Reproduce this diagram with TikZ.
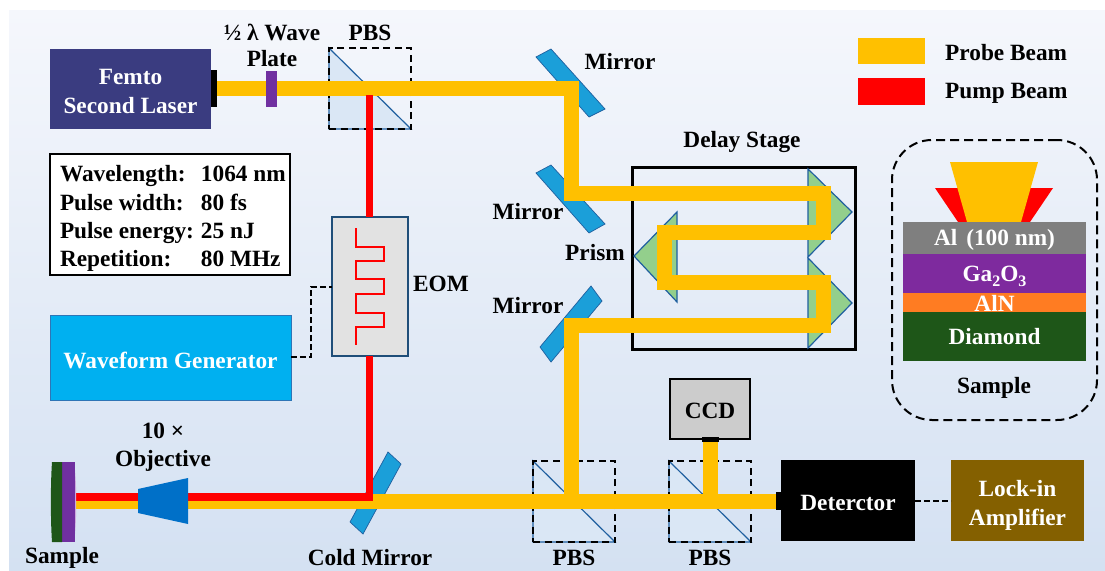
\documentclass[tikz,border=0pt]{standalone}
\usepackage{fontspec}
\setmainfont{Liberation Serif}
\usetikzlibrary{calc}
\definecolor{probe}{HTML}{FFC000}
\definecolor{pump}{HTML}{FF0000}
\definecolor{mirrorblue}{HTML}{1B9FD9}
\definecolor{edgeblue}{HTML}{1F5F9F}
\definecolor{prismgreen}{HTML}{93CF8C}
\definecolor{cubeblue}{HTML}{DAE7F5}
\newcommand{\dn}[2]{\raisebox{-#1}[\height][\depth]{#2}}
\tikzset{
  lab/.style={font=\fontsize{23.3}{29}\selectfont\bfseries,text=#1,align=center,inner sep=0pt},
  lab/.default=black,
  boxn/.style={rectangle,inner sep=0pt,outer sep=0pt,align=center,font=\fontsize{23.3}{29}\selectfont\bfseries},
  probebeam/.style={draw=probe,line width=15pt,line join=miter,line cap=butt},
  pumpbeam/.style={draw=pump,line width=7.5pt,line join=miter,line cap=butt},
  mirrorshape/.style={fill=mirrorblue,draw=edgeblue,line width=.7pt},
  prismshape/.style={fill=prismgreen,draw=edgeblue,line width=1.2pt},
  cubefill/.style={fill=cubeblue,draw=edgeblue,line width=1.2pt},
  cubedash/.style={draw=black,dash pattern=on 7pt off 4.5pt,line width=2pt},
  sig/.style={draw=black,dash pattern=on 6pt off 3pt,line width=2pt},
}
\begin{document}
\begin{tikzpicture}[x=1pt,y=-1pt]
\useasboundingbox (0,0) rectangle (1105,570);
\fill[white] (0,0) rectangle (1105,570);
\shade[top color={rgb,255:red,245;green,247;blue,252},middle color={rgb,255:red,224;green,231;blue,244},bottom color={rgb,255:red,212;green,225;blue,242}] (9,10) rectangle (1105,570);

% mirrors (under beams)
\path[mirrorshape] (536,57) -- (551,49) -- (605,109) -- (589,117) -- cycle;
\path[mirrorshape] (536,173) -- (551,165) -- (605,224) -- (589,233) -- cycle;
\path[mirrorshape] (540,347) -- (591,286) -- (602,301) -- (551,362) -- cycle;
\path[mirrorshape] (388,452) -- (401,464) -- (363,534) -- (350,522) -- cycle;

% delay stage
\node[boxn,draw=black,line width=3pt,minimum width=223pt,minimum height=182pt] (stage) at (743.5,258) {};
\path[prismshape] (808,169) -- (852,212) -- (808,257) -- cycle;
\path[prismshape] (808,258) -- (852,303) -- (808,348) -- cycle;
\path[prismshape] (677,212) -- (634,256) -- (677,302) -- cycle;

% beam splitter cubes
\foreach \nm/\xa/\ya in {pbsa/329/48,pbsb/533/461,pbsc/669/461}{
  \path[cubefill] (\xa,\ya) -- ($(\xa,\ya)+(82,81)$) -- ($(\xa,\ya)+(0,81)$) -- cycle;
  \node[boxn,cubedash,minimum width=82pt,minimum height=81pt] (\nm) at ($(\xa,\ya)+(41,40.5)$) {};
}

% equipment
\node[boxn,fill={rgb,255:red,58;green,60;blue,128},text=white,minimum width=161pt,minimum height=80pt] (laser) at (130.5,89) {\dn{4pt}{\begin{tabular}{@{}c@{}}Femto\\Second Laser\end{tabular}}};
\node[boxn,fill=black,minimum width=6pt,minimum height=37pt] (laserport) at (214,88.5) {};
\node[boxn,fill={rgb,255:red,226;green,226;blue,226},draw={rgb,255:red,31;green,78;blue,121},line width=1.2pt,minimum width=76pt,minimum height=139pt] (eom) at (370,286.5) {};
\node[boxn,fill={rgb,255:red,0;green,176;blue,240},draw={rgb,255:red,46;green,117;blue,182},line width=1pt,text=white,minimum width=241pt,minimum height=85pt] (wave) at (170.5,357.5) {\dn{3pt}{Waveform Generator}};
\node[boxn,fill={rgb,255:red,204;green,204;blue,204},draw=black,line width=1.2pt,minimum width=80pt,minimum height=60pt] (ccd) at (710,409) {\dn{1.5pt}{CCD}};
\node[boxn,fill=black,minimum width=17pt,minimum height=5pt] (ccdport) at (710.5,439.5) {};
\node[boxn,fill=black,text=white,minimum width=134pt,minimum height=81pt] (det) at (848,500.5) {\dn{2pt}{Deterctor}};
\node[boxn,fill=black,minimum width=5pt,minimum height=18pt] (detport) at (778.5,501) {};
\node[boxn,fill={rgb,255:red,132;green,96;blue,0},text=white,minimum width=133pt,minimum height=81pt] (lock) at (1017.5,500.5) {\dn{5pt}{\begin{tabular}{@{}c@{}}Lock-in\\Amplifier\end{tabular}}};

% beam way points
\coordinate (m1) at (571.5,88);
\coordinate (m2) at (571.5,193);
\coordinate (r1) at (823,193);
\coordinate (r2) at (823,232);
\coordinate (l1) at (664.5,232);
\coordinate (l2) at (664.5,282);
\coordinate (r3) at (823,282);
\coordinate (r4) at (823,325);
\coordinate (m3) at (571.5,325);
\coordinate (m4) at (571.5,501);
\coordinate (split) at (710,501);
\coordinate (sampleend) at (76,501);
\coordinate (pumpturn) at (369.5,497);
\coordinate (pumpend) at (75,497);

% beams
\draw[probebeam] (laserport.east |- m1) -- (m1) -- (m2) -- (r1) -- (r2) -- (l1) -- (l2) -- (r3) -- (r4) -- (m3) -- (m4);
\draw[probebeam] (sampleend) -- (detport.west |- sampleend);
\draw[probebeam] (split) -- (ccdport.south -| split);
\coordinate (pumptop) at (369.5,95);
\draw[pumpbeam] (pumptop) -- (pumptop |- eom.north);
\draw[pumpbeam] (pumptop |- eom.south) -- (pumpturn) -- (pumpend);
\node[boxn,fill={rgb,255:red,112;green,48;blue,160},minimum width=11pt,minimum height=36pt] (plate) at (271.5,89) {};

% EOM electrode
\draw[draw=pump,line width=2pt] (356,228) -- (356,247) -- (384,247) -- (384,261) -- (356,261) -- (356,279) -- (384,279) -- (384,294) -- (356,294) -- (356,313) -- (384,313) -- (384,327) -- (356,327) -- (356,345);

% signal lines
\coordinate (siga) at (311,357);
\coordinate (sigb) at (311,287);
\draw[sig] (wave.east |- siga) -- (siga) -- (sigb) -- (eom.west |- sigb);
\draw[sig] (det.east) -- (lock.west);

% objective and mini sample
\path[fill={rgb,255:red,0;green,112;blue,200},draw=none] (138,489) -- (188,478) -- (188,524) -- (138,513) -- cycle;
\path[fill={rgb,255:red,205;green,170;blue,220}] (74,462) .. controls (77,480) and (77,524) .. (74,542) -- cycle;
\path[fill={rgb,255:red,112;green,48;blue,160}] (61,462) -- (75,462) -- (75,542) -- (61,542) -- cycle;
\path[fill={rgb,255:red,30;green,86;blue,24}] (52,462) -- (62,462) -- (62,542) -- (52,542) .. controls (50.5,520) and (50.5,484) .. (52,462) -- cycle;

% info panel
\node[boxn,fill=white,draw=black,line width=1.5pt,minimum width=240pt,minimum height=121pt,font=\fontsize{23.3}{28.3}\selectfont\bfseries] (info) at (170,214.5) {\dn{4pt}{\begin{tabular}{@{}l@{}}\makebox[141pt][l]{Wavelength:}\makebox[79pt][l]{1064 nm}\\\makebox[141pt][l]{Pulse width:}\makebox[79pt][l]{80 fs}\\\makebox[141pt][l]{Pulse energy:}\makebox[79pt][l]{25 nJ}\\\makebox[141pt][l]{Repetition:}\makebox[79pt][l]{80 MHz}\end{tabular}}};

% legend
\node[boxn,fill=probe,minimum width=67pt,minimum height=26pt] (legprobe) at (891.5,51) {};
\node[boxn,fill=pump,minimum width=67pt,minimum height=27pt] (legpump) at (891.5,91.5) {};
\node[lab,anchor=west] (tprobe) at (945,53) {Probe Beam};
\node[lab,anchor=west] (tpump) at (945,93) {Pump Beam};

% sample inset
\node[boxn,draw=black,dash pattern=on 9pt off 5pt,line width=2pt,rounded corners=40pt,minimum width=205pt,minimum height=280pt] (inset) at (994.5,280) {};
\path[fill=pump] (935,188) -- (1053,188) -- (1030,222) -- (958,222) -- cycle;
\path[fill=probe] (950,162) -- (1038,162) -- (1021,222) -- (967,222) -- cycle;
\node[boxn,fill={rgb,255:red,127;green,127;blue,127},text=white,minimum width=183pt,minimum height=32pt] (al) at (994.5,238) {\dn{2pt}{Al\hspace{9pt}(100 nm)}};
\node[boxn,fill={rgb,255:red,126;green,42;blue,158},text=white,minimum width=183pt,minimum height=39pt] (ga) at (994.5,273.5) {\dn{3pt}{Ga\raisebox{-.22em}{\fontsize{16}{16}\selectfont 2}O\raisebox{-.22em}{\fontsize{16}{16}\selectfont 3}}};
\node[boxn,fill={rgb,255:red,255;green,124;blue,34},text=white,minimum width=183pt,minimum height=19pt] (aln) at (994.5,302.5) {\dn{1pt}{AlN}};
\node[boxn,fill={rgb,255:red,30;green,86;blue,24},text=white,minimum width=183pt,minimum height=49pt] (dia) at (994.5,336.5) {Diamond};

% labels
\node[lab] (twave) at (272,32) {½ λ Wave};
\node[lab] (tplate) at (272,59) {Plate};
\node[lab] (tpbsa) at (370,33) {PBS};
\node[lab] (tm1) at (620,62) {Mirror};
\node[lab] (tm2) at (528,212) {Mirror};
\node[lab] (tm3) at (528,306) {Mirror};
\node[lab] (tprism) at (595,253) {Prism};
\node[lab] (tdelay) at (742,142) {Delay Stage};
\node[lab] (teom) at (441,284) {EOM};
\node[lab] (tten) at (163,431) {10 ×};
\node[lab] (tobj) at (163,461) {Objective};
\node[lab] (tsam) at (62,558) {Sample};
\node[lab] (tcold) at (370,558) {Cold Mirror};
\node[lab] (tpbsb) at (574,558) {PBS};
\node[lab] (tpbsc) at (710,558) {PBS};
\node[lab] (tinset) at (994,388) {Sample};
\end{tikzpicture}
\end{document}
